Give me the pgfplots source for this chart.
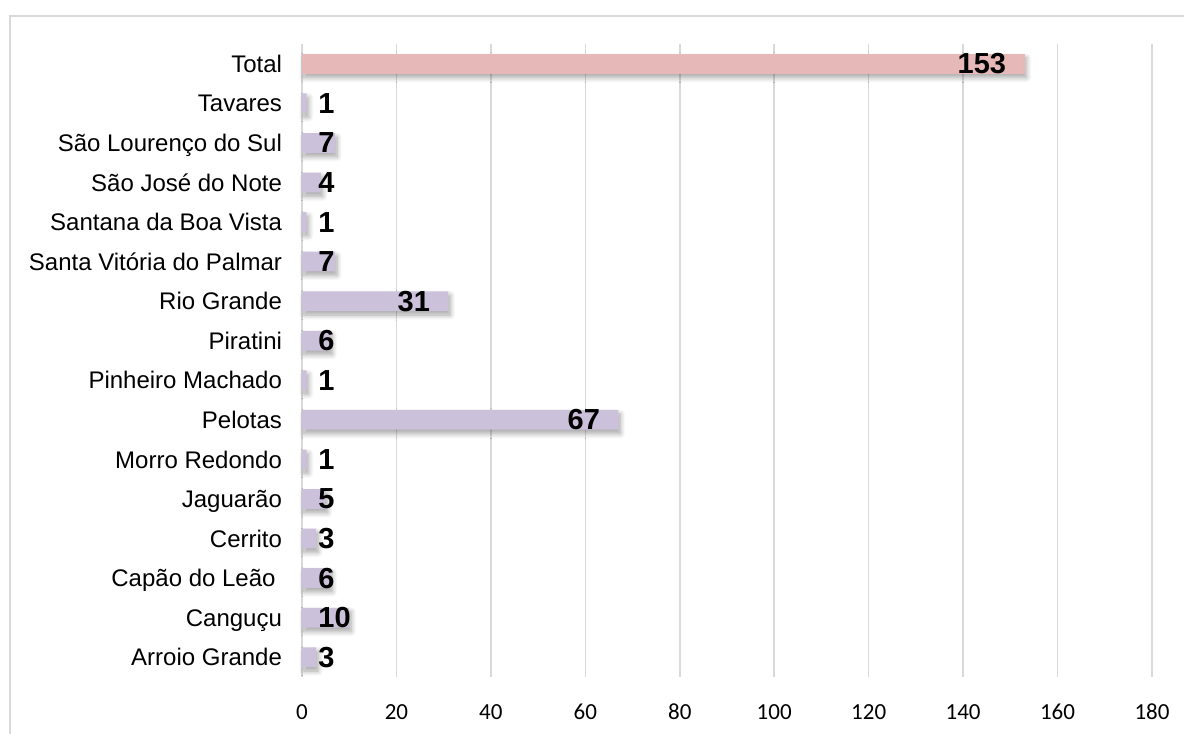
\documentclass[border=0pt]{standalone}
\usepackage{pgfplots}
\pgfplotsset{compat=1.18}
\usepackage{pgfplotstable}
\usepackage{fontspec}
\setmainfont{Liberation Sans}
\newfontfamily\carlito{Carlito}
\usetikzlibrary{shadows.blur}

\definecolor{lilac}{RGB}{204,193,218}
\definecolor{rose}{RGB}{230,185,184}
\definecolor{gridgray}{RGB}{217,217,217}

% municipalities, bottom to top
\pgfplotstableread{
pos val
0   3
1   10
2   6
3   3
4   5
5   1
6   67
7   1
8   6
9   31
10  7
11  1
12  4
13  7
14  1
}\cities
\pgfplotstableread{
pos val
15  153
}\total

\tikzset{
  barshadow/.style={
    blur shadow={shadow xshift=1bp, shadow yshift=-2bp,
      shadow blur radius=2.5bp, shadow blur steps=8, shadow opacity=35}
  },
  vallabel/.style={font=\bfseries\fontsize{14.5bp}{16bp}\selectfont, inner sep=0pt, text=black}
}

\begin{document}
\begin{tikzpicture}
\useasboundingbox (0,0) rectangle (592bp,367bp);
\clip (0,0) rectangle (592bp,367bp);
\draw[gridgray, line width=0.6bp] (5bp,-5bp) -- (5bp,359bp) -- (600bp,359bp);
\begin{axis}[
  at={(151bp,28.5bp)}, anchor=south west,
  scale only axis, width=425bp, height=316.5bp,
  xmin=0, xmax=180, ymin=-0.5, ymax=15.5,
  xtick={0,20,...,180},
  ytick={0,...,15},
  yticklabels={Arroio Grande, Canguçu, {Capão do Leão\hspace*{3.2bp}}, Cerrito, Jaguarão,
    Morro Redondo, Pelotas, Pinheiro Machado, Piratini, Rio Grande,
    Santa Vitória do Palmar, Santana da Boa Vista, São José do Note,
    São Lourenço do Sul, Tavares, Total},
  xmajorgrids,
  grid style={draw=gridgray, line width=0.75bp},
  axis line style={draw=none},
  major tick length=0pt,
  tick style={draw=none},
  /pgf/number format/assume math mode=true,
  xticklabel style={font=\carlito\fontsize{11.5bp}{14bp}\selectfont,
    anchor=base, yshift=-21bp},
  yticklabel style={font=\fontsize{12bp}{14bp}\selectfont,
    anchor=base east, xshift=-6.5bp, yshift=-4.3bp},
  clip=false,
  no markers,
]
% bars
\addplot[xbar, bar width=0.5, bar shift=0pt, fill=lilac, draw=none, barshadow]
  table[x=val, y=pos] {\cities};
\addplot[xbar, bar width=0.5, bar shift=0pt, fill=rose, draw=none, barshadow]
  table[x=val, y=pos] {\total};

% values that fit inside the bar: right-aligned inside its end
\addplot[draw=none, nodes near coords, point meta=explicit,
  restrict expr to domain={\thisrow{val}}{20:1000},
  every node near coord/.style={vallabel, anchor=east, xshift=-9bp}]
  table[x=val, y=pos, meta=val] {\cities};
\addplot[draw=none, nodes near coords, point meta=explicit,
  every node near coord/.style={vallabel, anchor=east, xshift=-9bp}]
  table[x=val, y=pos, meta=val] {\total};
% short bars: value set just after the bar start
\addplot[draw=none, nodes near coords, point meta=explicit,
  restrict expr to domain={\thisrow{val}}{0:19.9},
  every node near coord/.style={vallabel, anchor=west, xshift=8bp}]
  table[x expr=0, y=pos, meta=val] {\cities};
\end{axis}
\end{tikzpicture}
\end{document}
